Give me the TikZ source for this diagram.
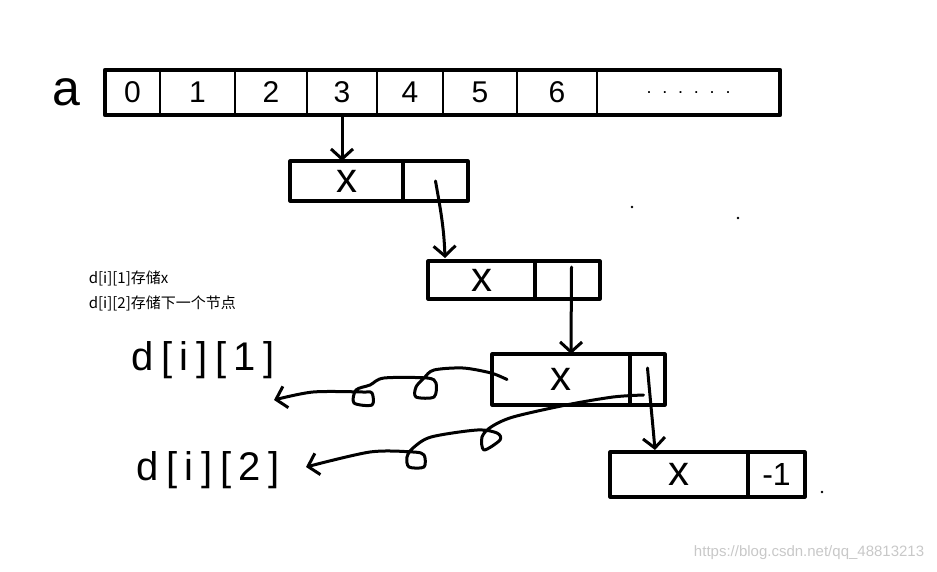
\documentclass[tikz,border=0pt]{standalone}
\usepackage{fontspec}
\setmainfont{Liberation Sans}
\newfontfamily\cjkfont{Noto Sans CJK SC}
\usetikzlibrary{arrows.meta, positioning, calc}
\definecolor{cwm}{HTML}{C8C8C8}
\tikzset{
  every picture/.style={line width=3pt, line cap=round, line join=round},
  cell/.style={draw, line width=1.8pt, minimum height=45pt, inner sep=0pt, outer sep=0pt, anchor=west, font=\fontsize{30}{30}\selectfont},
  half/.style={draw, line width=3.2pt, inner sep=0pt, outer sep=0pt, font=\fontsize{42}{42}\selectfont},
  arrow/.style={-{Straight Barb[length=10pt, width=22pt]}, line width=3pt},
  hand/.style={font=\fontsize{40}{40}\selectfont\addfontfeature{LetterSpace=19}},
  note/.style={font=\cjkfont\fontsize{15}{15}\selectfont, anchor=west},
  wmtext/.style={font=\fontsize{15}{15}\selectfont, text=cwm, anchor=east},
}
\begin{document}
\begin{tikzpicture}[x=1pt, y=-1pt]
  \useasboundingbox (0,0) rectangle (937,571);
  % the array a
  \node[cell, minimum width=55pt] (c0) at (105,92.5) {0};
  \node[cell, minimum width=75pt, right=0pt of c0] (c1) {1};
  \node[cell, minimum width=72pt, right=0pt of c1] (c2) {2};
  \node[cell, minimum width=70pt, right=0pt of c2] (c3) {3};
  \node[cell, minimum width=66pt, right=0pt of c3] (c4) {4};
  \node[cell, minimum width=74pt, right=0pt of c4] (c5) {5};
  \node[cell, minimum width=80pt, right=0pt of c5] (c6) {6};
  \node[cell, minimum width=183pt, right=0pt of c6] (c7) {\fontsize{18}{18}\selectfont\addfontfeature{LetterSpace=60}......};
  \draw[line width=4.8pt] (c0.north west) rectangle (c7.south east);
  \node[font=\fontsize{50}{50}\selectfont, left=20pt of c0] (alabel) {a};
  % list nodes
  \node[half, minimum width=113pt, minimum height=40pt, anchor=north west] (n1a) at (290,161) {x};
  \node[half, minimum width=65pt, minimum height=40pt, right=0pt of n1a] (n1b) {};
  \node[half, minimum width=107pt, minimum height=38pt, anchor=north west] (n2a) at (428,261) {x};
  \node[half, minimum width=65pt, minimum height=38pt, right=0pt of n2a] (n2b) {};
  \node[half, minimum width=138pt, minimum height=51pt, anchor=north west] (n3a) at (492,354) {x};
  \node[half, minimum width=35pt, minimum height=51pt, right=0pt of n3a] (n3b) {};
  \node[half, minimum width=138pt, minimum height=45pt, anchor=north west] (n4a) at (610,452) {x};
  \node[half, minimum width=57pt, minimum height=45pt, right=0pt of n4a, font=\fontsize{32}{32}\selectfont] (n4b) {-1};
  \draw[arrow] (c3.south) -- (c3.south |- n1a.north);
  \draw[arrow] (n1b.center) to[out=-80, in=92] ($(n2a.north west)+(17,-3)$);
  \draw[arrow] ($(n2b.north)+(4,6)$) -- ($(n3a.north)+(10,0)$);
  \draw[arrow] ($(n3b.north)+(0,14)$) to[out=-85, in=95] ($(n4a.north west)+(45,-2)$);
  % notes
  \node[note] (note1) at (84,278) {d[i][1]存储x};
  \node[note] (note2) at (84,303) {d[i][2]存储下一个节点};
  \node[hand] (d1) at (203,360) {d[i][1]};
  \node[hand] (d2) at (208,470) {d[i][2]};
  % curved pointers
  \coordinate (s1) at ($(n3a.west)+(15,0)$);
  \coordinate (t1) at (274,400);
  \coordinate (s2) at ($(n3b.south)+(-4,-10)$);
  \coordinate (t2) at (306,467);
  \draw[arrow] plot[smooth, tension=0.5] coordinates {(s1) (491,373) (463,368) (434,370) (424,378) (416,387) (416,397) (434,397) (436,383) (427,378) (384,378) (370,385) (356,390) (354,403) (372,405) (372,393) (363,392) (313,392) (t1)};
  \draw[arrow] plot[smooth, tension=0.5] coordinates {(s2) (613,397) (566,405) (513,417) (491,427) (482,437) (484,450) (500,440) (497,433) (477,430) (431,437) (413,448) (407,457) (409,467) (424,467) (424,455) (413,452) (370,452) (t2)};
  % specks
  \fill (632,207) circle (1.3);
  \fill (738,218) circle (1.3);
  \fill (822,492) circle (1.3);
  \node[wmtext] (wm) at (929,553) {https://blog.csdn.net/qq\_48813213};
\end{tikzpicture}
\end{document}
